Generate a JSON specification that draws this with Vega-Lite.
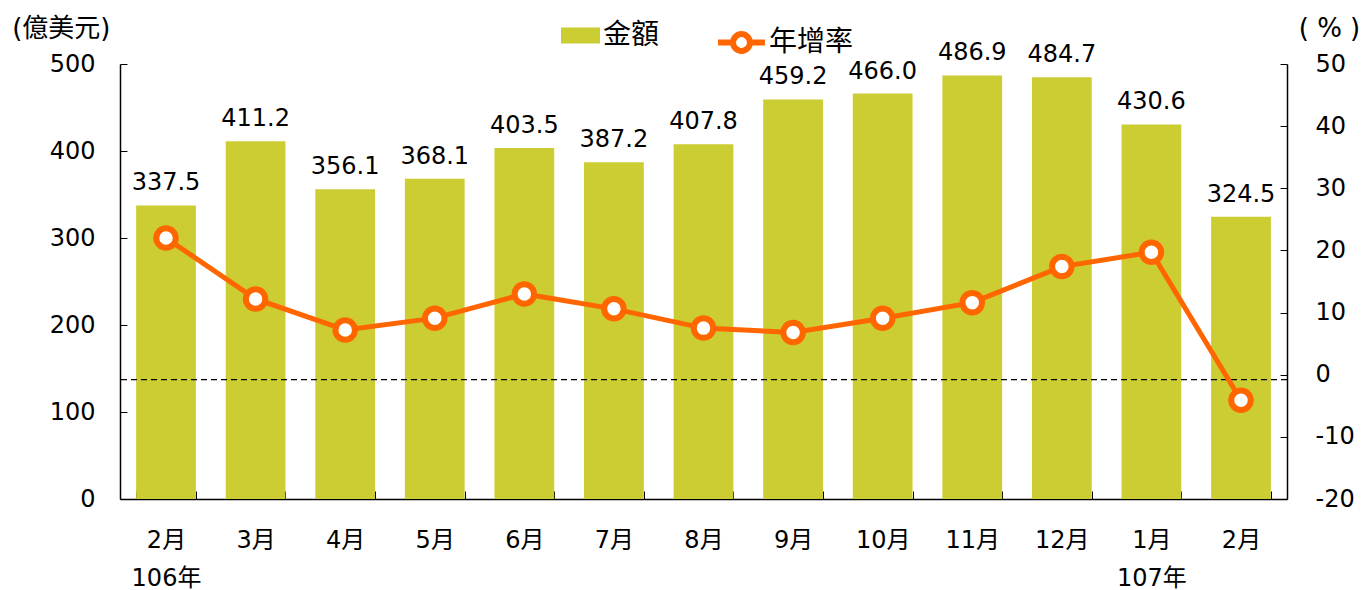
{
  "$schema": "https://vega.github.io/schema/vega-lite/v6.json",
  "width": 1167,
  "height": 435,
  "autosize": {"type": "none"},
  "padding": {"left": 120, "top": 64, "right": 75, "bottom": 91},
  "background": "white",
  "config": {
    "view": {"stroke": null},
    "font": "DejaVu Sans, Noto Sans CJK TC",
    "axis": {"labelFont": "DejaVu Sans, Noto Sans CJK TC", "labelFontSize": 24, "labelColor": "#000", "domainColor": "#000", "tickColor": "#000", "titleFont": "DejaVu Sans, Noto Sans CJK TC", "titleFontWeight": "normal", "titleFontSize": 26, "titleColor": "#000"},
    "legend": {"labelFont": "DejaVu Sans, Noto Sans CJK TC", "labelFontSize": 28, "labelColor": "#000"}
  },
  "data": {
    "values": [
      {"期": "106/2", "金額": 337.5, "年增率": 22.0},
      {"期": "106/3", "金額": 411.2, "年增率": 12.2},
      {"期": "106/4", "金額": 356.1, "年增率": 7.2},
      {"期": "106/5", "金額": 368.1, "年增率": 9.1},
      {"期": "106/6", "金額": 403.5, "年增率": 13.0},
      {"期": "106/7", "金額": 387.2, "年增率": 10.6},
      {"期": "106/8", "金額": 407.8, "年增率": 7.5},
      {"期": "106/9", "金額": 459.2, "年增率": 6.8},
      {"期": "106/10", "金額": 466.0, "年增率": 9.1},
      {"期": "106/11", "金額": 486.9, "年增率": 11.6},
      {"期": "106/12", "金額": 484.7, "年增率": 17.4},
      {"期": "107/1", "金額": 430.6, "年增率": 19.7},
      {"期": "107/2", "金額": 324.5, "年增率": -4.1}
    ]
  },
  "layer": [
    {
      "mark": {"type": "bar"},
      "encoding": {
        "x": {
          "field": "期", "type": "nominal", "sort": null,
          "scale": {"paddingInner": 0.333, "paddingOuter": 0.18},
          "axis": {
            "title": null, "labelAngle": 0, "tickBand": "extent", "tickSize": -8, "tickColor": "#000",
            "domainWidth": 1.5, "labelPadding": 49, "labelLineHeight": 38, "labelBaseline": "middle",
            "labelExpr": "!isString(datum.value) ? '' : datum.value == '106/2' ? ['2月','106年'] : datum.value == '107/1' ? ['1月','107年'] : split(datum.value,'/')[1] + '月'"
          }
        },
        "y": {
          "field": "金額", "type": "quantitative",
          "scale": {"domain": [0, 500]},
          "axis": {"values": [0, 100, 200, 300, 400, 500], "tickSize": -7, "labelPadding": 32, "domainWidth": 1.5, "grid": false,
            "title": "(億美元)", "titleAngle": 0, "titleX": -10, "titleY": -36, "titleAlign": "right", "titleBaseline": "middle"}
        },
        "fill": {"datum": "金額", "type": "nominal",
          "scale": {"domain": ["金額"], "range": ["#CCCC33"]},
          "legend": {
            "title": null, "orient": "none", "legendX": 441, "legendY": -48,
            "symbolType": "M-1,-0.41H1V0.41H-1Z", "symbolSize": 1520, "symbolStrokeWidth": 0, "labelOffset": 3
          }
        }
      }
    },
    {
      "mark": {"type": "text", "baseline": "bottom", "dy": -10, "fontSize": 24, "color": "#000"},
      "encoding": {
        "x": {"field": "期", "type": "nominal", "sort": null},
        "y": {"field": "金額", "type": "quantitative", "scale": {"domain": [0, 500]}, "axis": null},
        "text": {"field": "金額", "type": "quantitative", "format": ".1f"}
      }
    },
    {
      "data": {"values": [{"v": -0.8}]},
      "mark": {"type": "rule", "strokeDash": [6, 4], "color": "#000", "strokeWidth": 1.2},
      "encoding": {
        "y": {"field": "v", "type": "quantitative", "scale": {"domain": [-20, 50]}, "axis": null}
      }
    },
    {
      "mark": {"type": "line", "strokeWidth": 5},
      "encoding": {
        "x": {"field": "期", "type": "nominal", "sort": null},
        "y": {"field": "年增率", "type": "quantitative", "scale": {"domain": [-20, 50]},
          "axis": {"orient": "right", "values": [-20, -10, 0, 10, 20, 30, 40, 50], "tickSize": -7, "labelPadding": 35, "domainWidth": 1.5, "grid": false,
            "labelExpr": "datum.value < 0 ? '-' + abs(datum.value) : datum.label",
            "title": "( % )", "titleAngle": 0, "titleX": 42, "titleY": -36, "titleAlign": "center", "titleBaseline": "middle"}
        },
        "stroke": {"datum": "年增率", "type": "nominal",
          "scale": {"domain": ["年增率"], "range": ["#FF6600"]},
          "legend": {
            "title": null, "orient": "none", "legendX": 595, "legendY": -48,
            "symbolType": "M-1,0H-0.36M0.36,0H1M-0.36,0A0.36,0.36 0 1,0 0.36,0A0.36,0.36 0 1,0 -0.36,0",
            "symbolSize": 2200, "symbolStrokeWidth": 6, "symbolFillColor": "#FFFFFF", "symbolStrokeColor": "#FF6600", "labelOffset": 1
          }
        }
      }
    },
    {
      "mark": {"type": "point", "filled": true, "fill": "#FFFFFF", "stroke": "#FF6600", "strokeWidth": 6, "size": 380, "opacity": 1},
      "encoding": {
        "x": {"field": "期", "type": "nominal", "sort": null},
        "y": {"field": "年增率", "type": "quantitative", "scale": {"domain": [-20, 50]}, "axis": null}
      }
    }
  ],
  "resolve": {"scale": {"y": "independent", "fill": "independent", "stroke": "independent"}}
}
